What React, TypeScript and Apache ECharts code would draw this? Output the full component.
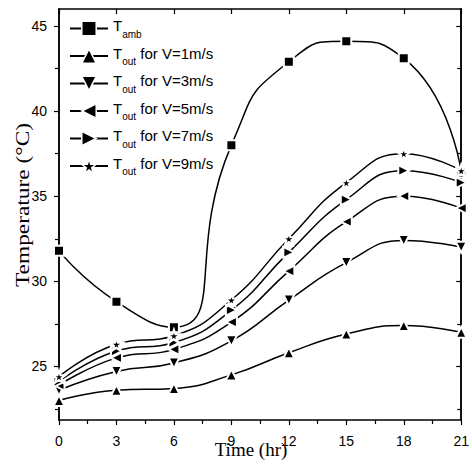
import React, { useEffect, useRef } from 'react';
import * as echarts from 'echarts';

const hours = [0, 3, 6, 9, 12, 15, 18, 21];
const tAmb = [31.8, 28.8, 27.3, 38.0, 42.9, 44.1, 43.1, 36.4];
const tV1 = [23.0, 23.6, 23.7, 24.5, 25.8, 26.9, 27.4, 27.0];
const tV3 = [23.6, 24.7, 25.2, 26.5, 28.9, 31.1, 32.4, 32.0];
const tV5 = [23.9, 25.5, 26.0, 27.6, 30.6, 33.5, 35.0, 34.3];
const tV7 = [24.1, 25.9, 26.4, 28.3, 31.7, 34.8, 36.5, 35.8];
const tV9 = [24.4, 26.3, 26.8, 28.9, 32.5, 35.8, 37.5, 36.5];
const yMajor = [25, 30, 35, 40, 45];
const yMinor = [22.5, 27.5, 32.5, 37.5, 42.5];
const seriesNames = ['Tamb', 'V1', 'V3', 'V5', 'V7', 'V9'];
const legendLabels: Record<string, string> = {
  Tamb: '{t|T}{s|amb}',
  V1: '{t|T}{s|out}{t| for V=1m/s}',
  V3: '{t|T}{s|out}{t| for V=3m/s}',
  V5: '{t|T}{s|out}{t| for V=5m/s}',
  V7: '{t|T}{s|out}{t| for V=7m/s}',
  V9: '{t|T}{s|out}{t| for V=9m/s}',
};

const STAR = 'path://M50,0 L61,35 L98,35 L68,57 L79,91 L50,70 L21,91 L32,57 L2,35 L39,35 Z';
const SANS = '"Liberation Sans", Arial, sans-serif';
const SERIF = '"Liberation Serif", "Times New Roman", serif';

export default function App() {
  const ref = useRef<HTMLDivElement>(null);
  useEffect(() => {
    const chart = echarts.init(ref.current!, undefined, { renderer: 'svg' });
    const mk = (name: string, vals: number[], symbol: string, rotate: number, size: number, smooth = 0.5) => ({
      name,
      type: 'line',
      data: hours.map((h, i) => [h, vals[i]]),
      smooth,
      symbol,
      symbolSize: size,
      symbolRotate: rotate,
      symbolKeepAspect: true,
      xAxisIndex: 0,
      yAxisIndex: 0,
      lineStyle: { color: '#000', width: 1.5 },
      itemStyle: { color: '#000', borderColor: '#fff', borderWidth: 2 },
      z: 3,
    });
    const yBase = {
      type: 'value',
      min: 21.85,
      max: 46,
      axisLine: { show: true, lineStyle: { color: '#000', width: 1.5 } },
      splitLine: { show: false },
    };
    chart.setOption({
      animation: false,
      backgroundColor: '#fff',
      grid: { left: 59, right: 8, top: 9, bottom: 44 },
      xAxis: [
        {
          type: 'value',
          min: 0,
          max: 21,
          interval: 3,
          position: 'bottom',
          axisLine: { lineStyle: { color: '#000', width: 1.5 } },
          axisTick: { length: 5, lineStyle: { color: '#000', width: 1.2 } },
          minorTick: { show: true, splitNumber: 2, length: 4, lineStyle: { color: '#000', width: 1.2 } },
          axisLabel: { color: '#000', fontFamily: SANS, fontSize: 14, margin: 14 },
          splitLine: { show: false },
        },
        {
          type: 'value',
          min: 0,
          max: 21,
          interval: 3,
          position: 'top',
          axisLine: { lineStyle: { color: '#000', width: 1.5 } },
          axisTick: { inside: true, length: 5, lineStyle: { color: '#000', width: 1.2 } },
          minorTick: { show: false },
          axisLabel: { show: false },
          splitLine: { show: false },
        },
      ],
      yAxis: [
        {
          ...yBase,
          position: 'left',
          axisTick: { show: true, length: 5, customValues: yMajor, lineStyle: { color: '#000', width: 1.2 } },
          axisLabel: { color: '#000', fontFamily: SANS, fontSize: 14, margin: 12, customValues: yMajor },
        },
        {
          ...yBase,
          position: 'left',
          axisTick: { show: true, length: 4, customValues: yMinor, lineStyle: { color: '#000', width: 1.2 } },
          axisLabel: { show: false },
        },
        {
          ...yBase,
          position: 'right',
          axisTick: { show: true, inside: true, length: 5, customValues: yMajor, lineStyle: { color: '#000', width: 1.2 } },
          axisLabel: { show: false },
        },
        {
          ...yBase,
          position: 'right',
          axisTick: { show: true, inside: true, length: 4, customValues: yMinor, lineStyle: { color: '#000', width: 1.2 } },
          axisLabel: { show: false },
        },
      ],
      legend: {
        orient: 'vertical',
        left: 69,
        top: 18,
        padding: 0,
        itemWidth: 38,
        itemHeight: 18,
        itemGap: 6.5,
        data: seriesNames,
        formatter: (n: string) => legendLabels[n],
        itemStyle: { borderWidth: 1.5 },
        textStyle: {
          color: '#000',
          rich: {
            t: { fontFamily: SANS, fontSize: 15, color: '#000', padding: [0, 0, 6, 0], verticalAlign: 'bottom' },
            s: { fontFamily: SANS, fontSize: 10, color: '#000', verticalAlign: 'bottom' },
          },
        },
      },
      graphic: [
        {
          type: 'text',
          x: 251,
          y: 449,
          style: { text: 'Time (hr)', font: `19px ${SERIF}`, fill: '#000', align: 'center', verticalAlign: 'middle' },
        },
        {
          type: 'text',
          x: 23,
          y: 205,
          rotation: Math.PI / 2,
          scaleX: 1.3,
          style: { text: 'Temperature (\u00B0C)', font: `18px ${SERIF}`, fill: '#000', align: 'center', verticalAlign: 'middle' },
        },
      ],
      series: [
        mk('Tamb', tAmb, 'rect', 0, 10, 0.6),
        mk('V1', tV1, 'triangle', 0, 11),
        mk('V3', tV3, 'triangle', 180, 11),
        mk('V5', tV5, 'triangle', 90, 11),
        mk('V7', tV7, 'triangle', -90, 11),
        mk('V9', tV9, STAR, 0, 13),
      ],
    });
    return () => chart.dispose();
  }, []);
  return <div ref={ref} style={{ position: 'fixed', left: 0, top: 0, width: 472, height: 464 }} />;
}
